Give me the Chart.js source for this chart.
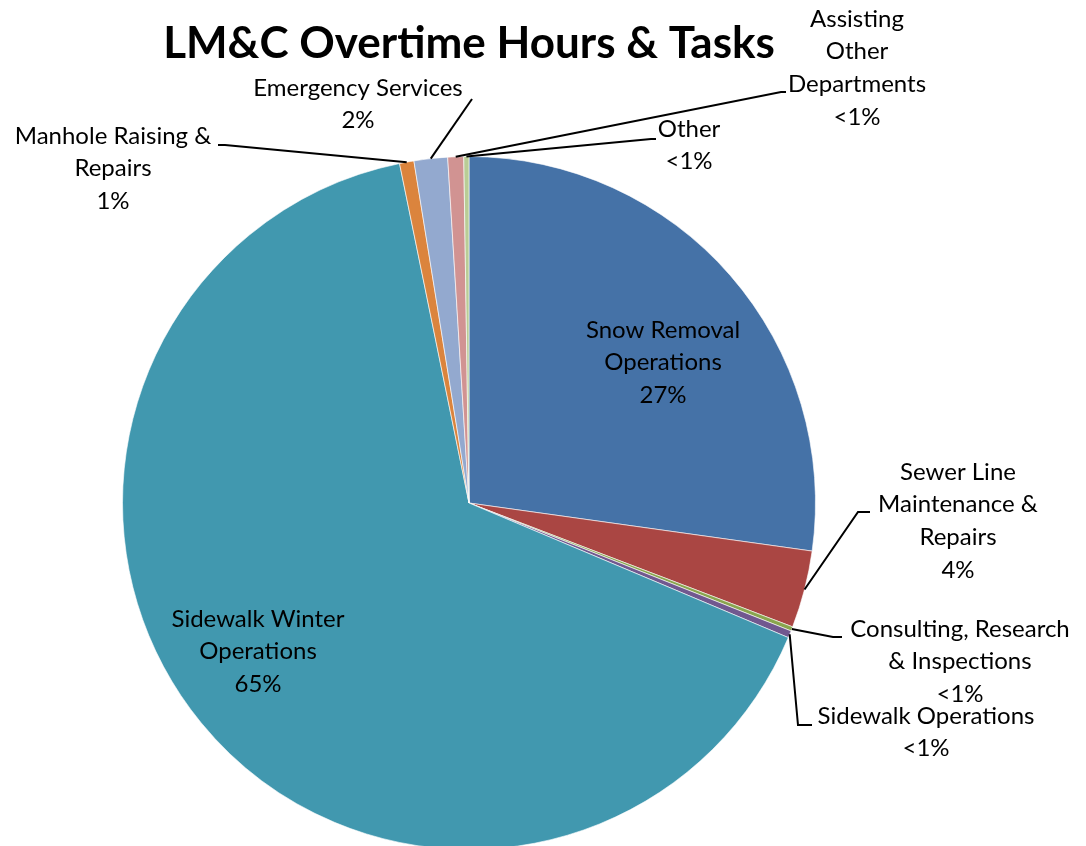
<!DOCTYPE html>
<html>
<head>
<meta charset="utf-8">
<script src="https://cdn.jsdelivr.net/npm/chart.js@4.4.1/dist/chart.umd.min.js"></script>
<style>
  html, body { margin: 0; padding: 0; background: #fff; overflow: hidden; }
  #wrap { width: 1086px; height: 860px; }
</style>
</head>
<body>
<div id="wrap"><canvas id="chart" width="1086" height="860"></canvas></div>
<script>
// Overtime share by task (percent of hours), clockwise from 12 o'clock
const categories = [
  'Snow Removal Operations',
  'Sewer Line Maintenance & Repairs',
  'Consulting, Research & Inspections',
  'Sidewalk Operations',
  'Sidewalk Winter Operations',
  'Manhole Raising & Repairs',
  'Emergency Services',
  'Assisting Other Departments',
  'Other'
];
const hours = [27.2, 3.6, 0.2, 0.33, 65.4, 0.67, 1.56, 0.74, 0.24];
// percentages as printed on the chart
const pctLabels = ['27%', '4%', '<1%', '<1%', '65%', '1%', '2%', '<1%', '<1%'];
const colors = ['#4572A7', '#AA4643', '#89A54E', '#71588F', '#4198AF', '#DB843D', '#93A9CF', '#D19392', '#B9CD96'];

// label text lines
const labelLines = [
  ['Snow Removal', 'Operations'],
  ['Sewer Line', 'Maintenance &', 'Repairs'],
  ['Consulting, Research', '& Inspections'],
  ['Sidewalk Operations'],
  ['Sidewalk Winter', 'Operations'],
  ['Manhole Raising &', 'Repairs'],
  ['Emergency Services'],
  ['Assisting', 'Other', 'Departments'],
  ['Other']
];

// label placement: text centre x, first line y, leader elbow and end (null = inside label)
const labelLayout = [
  { x: 663, y: 330, elbow: null },
  { x: 958, y: 472, elbow: [858, 512], end: [870, 512] },
  { x: 960, y: 629, elbow: [833, 637], end: [842, 637] },
  { x: 926, y: 716, elbow: [798, 725], end: [812, 725] },
  { x: 258, y: 619, elbow: null },
  { x: 113, y: 136, elbow: [225, 145], end: [218, 145] },
  { x: 358, y: 88,  elbow: [472, 99],  end: [472, 99] },
  { x: 857, y: 19,  elbow: [781, 92],  end: [786, 92] },
  { x: 689, y: 129, elbow: [651, 139], end: [656, 139] }
];
const lineHeight = 32.7;
const labelFont = '24px Lato';
const titleText = 'LM&C Overtime Hours & Tasks';

const labelPlugin = {
  id: 'pieLabels',
  afterDraw(chart) {
    const ctx = chart.ctx;
    const meta = chart.getDatasetMeta(0);
    ctx.save();

    // title centred over the pie
    const ca = chart.chartArea;
    ctx.fillStyle = '#000';
    ctx.font = 'bold 44px Lato';
    ctx.textAlign = 'center';
    ctx.textBaseline = 'middle';
    ctx.fillText(titleText, (ca.left + ca.right) / 2, 44);

    meta.data.forEach((arc, i) => {
      const lay = labelLayout[i];
      const p = arc.getProps(['x', 'y', 'startAngle', 'endAngle', 'outerRadius'], true);
      if (lay.elbow) {
        const mid = (p.startAngle + p.endAngle) / 2;
        const sx = p.x + Math.cos(mid) * p.outerRadius;
        const sy = p.y + Math.sin(mid) * p.outerRadius;
        ctx.strokeStyle = '#000';
        ctx.lineWidth = 2;
        ctx.beginPath();
        ctx.moveTo(sx, sy);
        ctx.lineTo(lay.elbow[0], lay.elbow[1]);
        ctx.lineTo(lay.end[0], lay.end[1]);
        ctx.stroke();
      }
      const lines = labelLines[i].concat([pctLabels[i]]);
      ctx.fillStyle = '#000';
      ctx.font = labelFont;
      ctx.textAlign = 'center';
      ctx.textBaseline = 'middle';
      lines.forEach((t, k) => ctx.fillText(t, lay.x, lay.y + k * lineHeight));
    });
    ctx.restore();
  }
};

new Chart(document.getElementById('chart'), {
  type: 'pie',
  data: {
    labels: categories,
    datasets: [{
      data: hours,
      backgroundColor: colors,
      borderColor: 'rgba(255,255,255,0.6)',
      borderWidth: 1
    }]
  },
  options: {
    responsive: false,
    animation: false,
    layout: { padding: { left: 122, right: 270, top: 156, bottom: 10 } },
    plugins: {
      legend: { display: false },
      tooltip: { enabled: false },
      title: { display: false }
    }
  },
  plugins: [labelPlugin]
});
</script>
</body>
</html>
